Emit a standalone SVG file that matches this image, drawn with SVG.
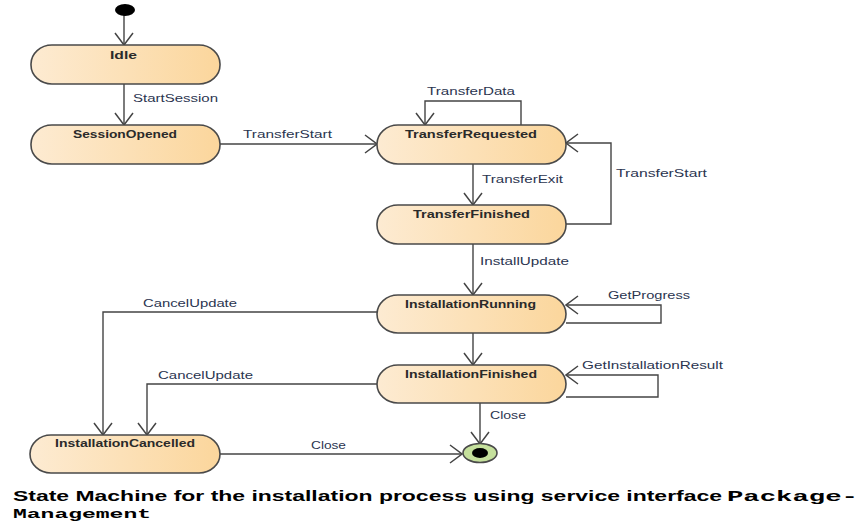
<svg xmlns="http://www.w3.org/2000/svg" width="864" height="521" viewBox="0 0 864 521">
<defs>
<linearGradient id="g" x1="0" y1="0" x2="1" y2="0">
<stop offset="0" stop-color="#fdebd2"/>
<stop offset="1" stop-color="#fbd69c"/>
</linearGradient>
<marker id="a" markerWidth="14" markerHeight="22" viewBox="0 0 14 22" refX="13" refY="11" orient="auto" markerUnits="userSpaceOnUse">
<path d="M1,2 L13,11 L1,20" fill="none" stroke="#444" stroke-width="1.5"/>
</marker>
<style>
.n{fill:url(#g);stroke:#4a4a4a;stroke-width:1.6}
.nt{font-family:"Liberation Sans",Arial,sans-serif;font-weight:bold;font-size:11px;fill:#2a2a2a;text-anchor:start}
.e{fill:none;stroke:#444;stroke-width:1.4}
.ea{fill:none;stroke:#444;stroke-width:1.4;marker-end:url(#a)}
.et{font-family:"Liberation Sans",Arial,sans-serif;font-size:10.5px;fill:#2b3550}
.cap{font-family:"Liberation Sans",Arial,sans-serif;font-weight:bold;font-size:15px;fill:#000}
.capm{font-family:"Liberation Mono","Courier New",monospace;font-weight:bold;font-size:15px;fill:#000}
.capm2{font-family:"Liberation Mono","Courier New",monospace;font-weight:bold;font-size:13px;fill:#000}
</style>
</defs>
<rect width="864" height="521" fill="#fff"/>
<g id="connectors">
<path class="ea" d="M124,15 L124,45"/>
<path class="ea" d="M124,84 L124,125"/>
<path class="ea" d="M220,144 L377,144"/>
<path class="ea" d="M521,125 L521,101 L425,101 L425,125"/>
<path class="ea" d="M473,164 L473,205"/>
<path class="ea" d="M566,224 L611,224 L611,143 L566,143"/>
<path class="ea" d="M473,244 L473,295"/>
<path class="ea" d="M566,323 L661,323 L661,305 L566,305"/>
<path class="ea" d="M473,333 L473,365"/>
<path class="ea" d="M566,397 L658,397 L658,375 L566,375"/>
<path class="ea" d="M480,403 L480,444"/>
<path class="ea" d="M377,312 L103,312 L103,435"/>
<path class="ea" d="M377,384 L147,384 L147,435"/>
<path class="ea" d="M220,454 L462,454"/>
<text class="et" x="133" y="102" textLength="85" lengthAdjust="spacingAndGlyphs">StartSession</text>
<text class="et" x="243" y="138" textLength="89" lengthAdjust="spacingAndGlyphs">TransferStart</text>
<text class="et" x="427" y="95" textLength="88" lengthAdjust="spacingAndGlyphs">TransferData</text>
<text class="et" x="482" y="183" textLength="81" lengthAdjust="spacingAndGlyphs">TransferExit</text>
<text class="et" x="616" y="177" textLength="91" lengthAdjust="spacingAndGlyphs">TransferStart</text>
<text class="et" x="480" y="265" textLength="89" lengthAdjust="spacingAndGlyphs">InstallUpdate</text>
<text class="et" x="608" y="299" textLength="82" lengthAdjust="spacingAndGlyphs">GetProgress</text>
<text class="et" x="582" y="369" textLength="141" lengthAdjust="spacingAndGlyphs">GetInstallationResult</text>
<text class="et" x="490" y="419" textLength="36" lengthAdjust="spacingAndGlyphs">Close</text>
<text class="et" x="143" y="307" textLength="94" lengthAdjust="spacingAndGlyphs">CancelUpdate</text>
<text class="et" x="158" y="379" textLength="95" lengthAdjust="spacingAndGlyphs">CancelUpdate</text>
<text class="et" x="311" y="449" textLength="35" lengthAdjust="spacingAndGlyphs">Close</text>
</g>
<g id="initial"><ellipse cx="125" cy="10" rx="10" ry="6" fill="#000"/></g>
<g id="Idle"><rect class="n" x="31" y="45" width="189" height="39" rx="21" ry="19"/><text class="nt" x="110" y="59" textLength="27" lengthAdjust="spacingAndGlyphs">Idle</text></g>
<g id="SessionOpened"><rect class="n" x="31" y="125" width="189" height="39" rx="21" ry="19"/><text class="nt" x="73" y="138" textLength="104" lengthAdjust="spacingAndGlyphs">SessionOpened</text></g>
<g id="TransferRequested"><rect class="n" x="377" y="125" width="189" height="39" rx="21" ry="19"/><text class="nt" x="405" y="138" textLength="132" lengthAdjust="spacingAndGlyphs">TransferRequested</text></g>
<g id="TransferFinished"><rect class="n" x="377" y="205" width="189" height="39" rx="21" ry="19"/><text class="nt" x="413" y="218" textLength="117" lengthAdjust="spacingAndGlyphs">TransferFinished</text></g>
<g id="InstallationRunning"><rect class="n" x="377" y="295" width="189" height="38" rx="21" ry="19"/><text class="nt" x="405" y="308" textLength="131" lengthAdjust="spacingAndGlyphs">InstallationRunning</text></g>
<g id="InstallationFinished"><rect class="n" x="377" y="365" width="189" height="38" rx="21" ry="19"/><text class="nt" x="405" y="378" textLength="132" lengthAdjust="spacingAndGlyphs">InstallationFinished</text></g>
<g id="InstallationCancelled"><rect class="n" x="30" y="435" width="190" height="38" rx="21" ry="19"/><text class="nt" x="55" y="447" textLength="140" lengthAdjust="spacingAndGlyphs">InstallationCancelled</text></g>
<g id="final"><ellipse cx="480" cy="453" rx="17" ry="9.5" fill="#c5e09c" stroke="#4a4a4a" stroke-width="1.6"/><ellipse cx="480" cy="453" rx="8" ry="5" fill="#000"/></g>
<g id="caption">
<text class="cap" x="13" y="501" textLength="709" lengthAdjust="spacingAndGlyphs">State Machine for the installation process using service interface</text>
<text class="capm" x="727" y="501" textLength="131" lengthAdjust="spacingAndGlyphs">Package-</text>
<text class="capm2" x="13" y="518" textLength="138" lengthAdjust="spacingAndGlyphs">Management</text>
</g>
</svg>
